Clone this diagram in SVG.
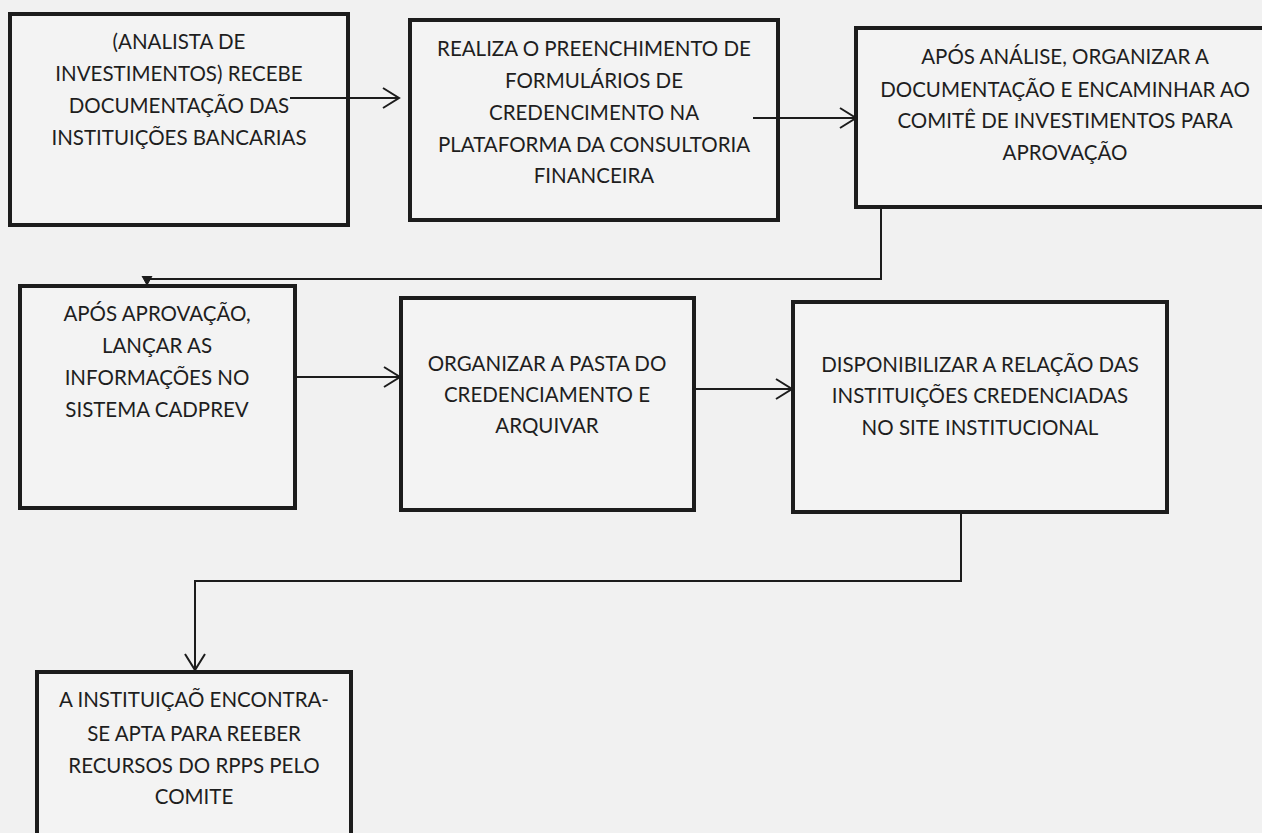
<svg xmlns="http://www.w3.org/2000/svg" width="1262" height="833" viewBox="0 0 1262 833">
<defs>
<style>
.bg{fill:#f1f1f1}
.box{fill:#f3f3f3;stroke:#1c1c1c;stroke-width:4}
.t{font-family:Lato,"Open Sans","Liberation Sans",sans-serif;font-size:20.5px;fill:#1e1e1e;text-anchor:middle}
.c{fill:none;stroke:#1c1c1c;stroke-width:2}
</style>
<marker id="open" markerUnits="userSpaceOnUse" markerWidth="20" markerHeight="24" refX="17" refY="11" orient="auto" viewBox="0 0 20 24">
<path d="M1,1 L17,11 L1,21" fill="none" stroke="#1c1c1c" stroke-width="2"/>
</marker>
<marker id="small" markerUnits="userSpaceOnUse" markerWidth="12" markerHeight="12" refX="8" refY="5" orient="auto" viewBox="0 0 12 10">
<path d="M0,0 L9,5 L0,10 Z" fill="#1c1c1c" stroke="#1c1c1c" stroke-width="1"/>
</marker>
</defs>
<rect class="bg" x="0" y="0" width="1262" height="833"/>

<g id="node1">
<rect class="box" x="10" y="14" width="338" height="211"/>
<text class="t"><tspan x="179" y="49">(ANALISTA DE</tspan><tspan x="179" y="81">INVESTIMENTOS) RECEBE</tspan><tspan x="179" y="113">DOCUMENTAÇÃO DAS</tspan><tspan x="179" y="145">INSTITUIÇÕES BANCARIAS</tspan></text>
</g>

<g id="node2">
<rect class="box" x="410" y="20" width="368" height="200"/>
<text class="t"><tspan x="594" y="56">REALIZA O PREENCHIMENTO DE</tspan><tspan x="594" y="88">FORMULÁRIOS DE</tspan><tspan x="594" y="120">CREDENCIMENTO NA</tspan><tspan x="594" y="152">PLATAFORMA DA CONSULTORIA</tspan><tspan x="594" y="183">FINANCEIRA</tspan></text>
</g>

<g id="node3">
<rect class="box" x="856" y="28" width="416" height="179"/>
<text class="t"><tspan x="1065" y="64">APÓS ANÁLISE, ORGANIZAR A</tspan><tspan x="1065" y="97">DOCUMENTAÇÃO E ENCAMINHAR AO</tspan><tspan x="1065" y="128">COMITÊ DE INVESTIMENTOS PARA</tspan><tspan x="1065" y="160">APROVAÇÃO</tspan></text>
</g>

<g id="node4">
<rect class="box" x="20" y="286" width="275" height="222"/>
<text class="t"><tspan x="157" y="321">APÓS APROVAÇÃO,</tspan><tspan x="157" y="353">LANÇAR AS</tspan><tspan x="157" y="385">INFORMAÇÕES NO</tspan><tspan x="157" y="417">SISTEMA CADPREV</tspan></text>
</g>

<g id="node5">
<rect class="box" x="401" y="298" width="293" height="212"/>
<text class="t"><tspan x="547" y="371">ORGANIZAR A PASTA DO</tspan><tspan x="547" y="402">CREDENCIAMENTO E</tspan><tspan x="547" y="433">ARQUIVAR</tspan></text>
</g>

<g id="node6">
<rect class="box" x="793" y="302" width="374" height="210"/>
<text class="t"><tspan x="980" y="372">DISPONIBILIZAR A RELAÇÃO DAS</tspan><tspan x="980" y="403">INSTITUIÇÕES CREDENCIADAS</tspan><tspan x="980" y="435">NO SITE INSTITUCIONAL</tspan></text>
</g>

<g id="node7">
<rect class="box" x="37" y="672" width="314" height="175"/>
<text class="t"><tspan x="194" y="707">A INSTITUIÇAÕ ENCONTRA-</tspan><tspan x="194" y="741">SE APTA PARA REEBER</tspan><tspan x="194" y="773">RECURSOS DO RPPS PELO</tspan><tspan x="194" y="804">COMITE</tspan></text>
</g>

<g id="connectors">
<path class="c" d="M290,98 H399" marker-end="url(#open)"/>
<path class="c" d="M753,118 H856" marker-end="url(#open)"/>
<path class="c" d="M881,209 V279 H147 V284" marker-end="url(#small)"/>
<path class="c" d="M295,377 H400" marker-end="url(#open)"/>
<path class="c" d="M695,389 H792" marker-end="url(#open)"/>
<path class="c" d="M961,513 V581 H195 V670" marker-end="url(#open)"/>
</g>
</svg>
